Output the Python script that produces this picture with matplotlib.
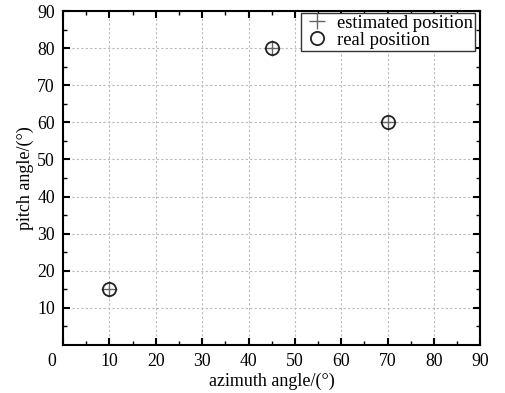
import matplotlib
matplotlib.use("Agg")
import matplotlib.pyplot as plt
import matplotlib.transforms as mtransforms

plt.rcParams['font.family'] = ['Liberation Serif', 'DejaVu Serif']

azimuth_est = [10, 45, 70]
pitch_est = [15, 80, 60]
azimuth_real = [10, 45, 70]
pitch_real = [15, 80, 60]
xticks = [0, 10, 20, 30, 40, 50, 60, 70, 80, 90]
yticks = [10, 20, 30, 40, 50, 60, 70, 80, 90]

fig = plt.figure(figsize=(5.05, 3.93), dpi=100)
ax = fig.add_axes([0.125, 0.122, 0.826, 0.850])

ax.plot(azimuth_est, pitch_est, linestyle='none', marker='+', color='#666666',
        markersize=11, markeredgewidth=1.0, label='estimated position')
ax.plot(azimuth_real, pitch_real, linestyle='none', marker='o', markerfacecolor='none',
        markeredgecolor='#222222', markersize=9.5, markeredgewidth=1.3, label='real position')

ax.set_xlim(0, 90)
ax.set_ylim(0, 90)
ax.set_xticks(xticks)
ax.set_yticks(yticks)
ax.set_xticks(range(5, 90, 10), minor=True)
ax.set_yticks(range(5, 90, 10), minor=True)
ax.tick_params(which='both', direction='in', top=True, right=True, labelsize=12.8, color='black', pad=6)
ax.tick_params(which='major', length=5, width=1.5)
ax.tick_params(which='minor', length=3, width=1.0)
for s in ax.spines.values():
    s.set_linewidth(1.5)

ax.grid(True, which='major', linestyle=(0, (2, 2)), color='#bbbbbb', linewidth=0.8)

# shift the "0" x tick label slightly left like the reference
lbl0 = ax.get_xticklabels()[0]
lbl0.set_transform(lbl0.get_transform() + mtransforms.ScaledTranslation(-11/100, 0, fig.dpi_scale_trans))

ax.set_xlabel('azimuth angle/(°)', fontsize=13, labelpad=1.5)
ax.set_ylabel('pitch angle/(°)', fontsize=13, labelpad=2)

leg = ax.legend(loc='upper right', bbox_to_anchor=(0.988, 0.994), fontsize=13.4, frameon=True,
                fancybox=False, edgecolor='#333333', framealpha=1, borderpad=0.1,
                labelspacing=0.0, handletextpad=0.35, handlelength=1.5, borderaxespad=0)
leg.get_frame().set_linewidth(1.0)

fig.savefig('out.png', dpi=100)
